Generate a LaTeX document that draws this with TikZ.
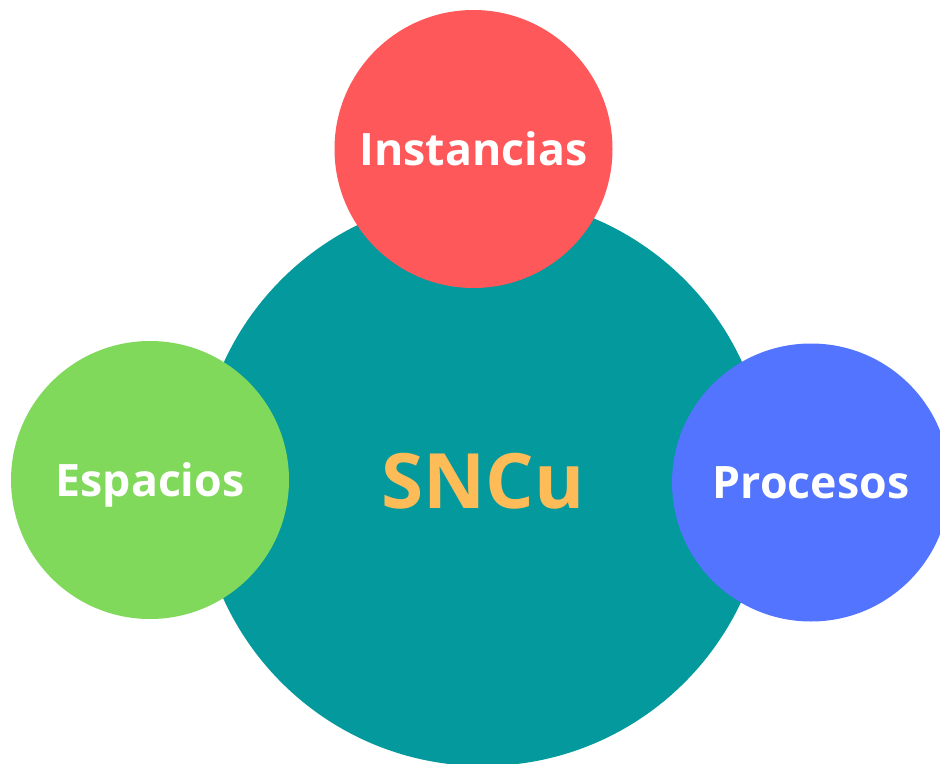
\documentclass[tikz,border=0pt]{standalone}
\usepackage{fontspec}
\setmainfont{Open Sans}
\definecolor{tealbig}{RGB}{4,153,157}
\definecolor{redbub}{RGB}{255,88,90}
\definecolor{greenbub}{RGB}{128,217,90}
\definecolor{bluebub}{RGB}{82,116,255}
\definecolor{orangetxt}{RGB}{254,188,89}
\tikzset{
  bubble/.style={circle, inner sep=0pt, minimum size=208.5pt, text=white,
    text height=24pt, text depth=0pt,
    font=\fontsize{33.5pt}{40pt}\selectfont\bfseries},
  core/.style={circle, inner sep=0pt, minimum size=427.5pt, fill=tealbig,
    text=orangetxt, text height=41pt, text depth=0pt,
    font=\fontsize{57.3pt}{66pt}\selectfont\bfseries}
}
\begin{document}
\begin{tikzpicture}[x=0.75pt, y=-0.75pt]
\useasboundingbox (0,0) rectangle (940,764);
% Central circle
\node[core] (sncu) at (483,481) {SNCu};
% Satellite circles
\node[bubble, fill=redbub] (instancias) at (473.5,149) {Instancias};
\node[bubble, fill=greenbub] (espacios) at (150,480) {Espacios};
\node[bubble, fill=bluebub] (procesos) at (811,482.5) {Procesos};
\end{tikzpicture}
\end{document}
